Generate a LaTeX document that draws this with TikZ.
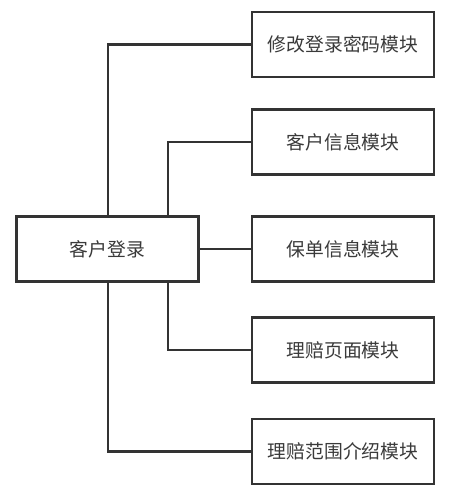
\documentclass[tikz,border=0pt]{standalone}
\usepackage{fontspec}
\setmainfont{Noto Sans CJK SC}
\definecolor{ln}{HTML}{333333}
\definecolor{tx}{HTML}{3A3A3A}
\begin{document}
\begin{tikzpicture}[x=1pt,y=1pt,
  box/.style={draw=ln, line width=2.4pt, fill=white, minimum width=182pt, minimum height=65pt, inner sep=0pt, font=\fontsize{18.8}{20}\selectfont, text=tx},
  conn/.style={draw=ln, line width=2.4pt}]
\useasboundingbox (0,0) rectangle (454,504);
\node[box] (login) at (107.5,255) {客户登录};
\node[box] (m1) at (343,459.5) {修改登录密码模块};
\node[box] (m2) at (343,362) {客户信息模块};
\node[box] (m3) at (343,255) {保单信息模块};
\node[box] (m4) at (343,154) {理赔页面模块};
\node[box] (m5) at (343,52.5) {理赔范围介绍模块};
\draw[conn] (login.north -| 108,0) |- (m1.west);
\draw[conn] (login.north -| 168,0) |- (m2.west);
\draw[conn] (login.east) -- (m3.west);
\draw[conn] (login.south -| 168,0) |- (m4.west);
\draw[conn] (login.south -| 108,0) |- (m5.west);
\end{tikzpicture}
\end{document}
